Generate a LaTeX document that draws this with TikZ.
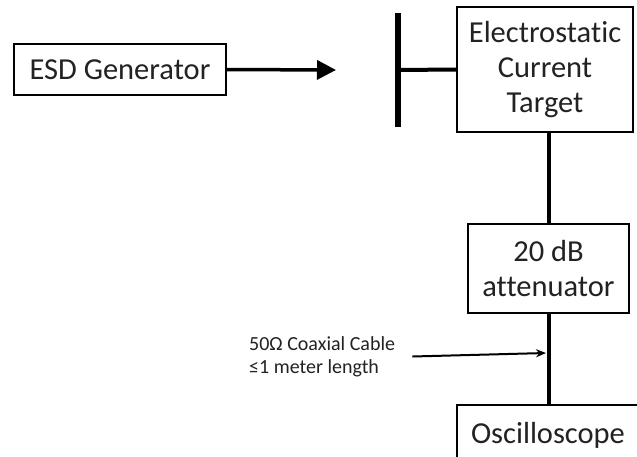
\documentclass[tikz,border=0pt]{standalone}
\usepackage{fontspec}
\setmainfont{Carlito}[Ligatures={NoCommon}]
\usetikzlibrary{arrows.meta}
\definecolor{txt}{HTML}{222222}
\tikzset{
  box/.style={draw=black, line width=1.5pt, fill=white, inner sep=0pt, align=center,
    text=txt, font=\fontsize{30.5}{35}\selectfont},
  wire/.style={line width=4pt},
  bigarrow/.style={line width=3.5pt, -{Triangle[length=19pt,width=19pt]}},
  smallarrow/.style={line width=2pt, -{Stealth[length=10pt,width=8pt]}},
  note/.style={text=txt, font=\fontsize{20}{23}\selectfont, align=left, inner sep=0pt}
}
\begin{document}
\begin{tikzpicture}[x=1pt,y=-1pt]
\useasboundingbox[fill=white] (0,0) rectangle (637,456);
\node[box, minimum width=212pt, minimum height=51pt] (esd) at (120,69.5) {ESD Generator};
\node[box, minimum width=176pt, minimum height=125pt] (target) at (545,69.5) {Electrostatic\\Current\\Target};
\node[box, minimum width=161pt, minimum height=89pt] (att) at (548.5,268.5) {20 dB\\attenuator};
\node[box, minimum width=182pt, minimum height=60pt] (osc) at (548,435) {Oscilloscope};
\node[fill=black, minimum width=6pt, minimum height=114pt, inner sep=0pt] (bar) at (398,70) {};
\coordinate (tip) at (336,70);
\coordinate (cab) at (546,353);
\node[note, anchor=west] (lbl) at (249,356.5) {50Ω Coaxial Cable\\≤1 meter length};
\draw[bigarrow] (esd.east) -- (tip);
\draw[wire] (bar.center) -- (target.west);
\draw[wire] (att.north |- target.south) -- (att.north);
\draw[wire] (att.south) -- (osc.north -| att.south);
\draw[smallarrow] ([xshift=17pt]lbl.east) -- (cab);
\end{tikzpicture}
\end{document}
